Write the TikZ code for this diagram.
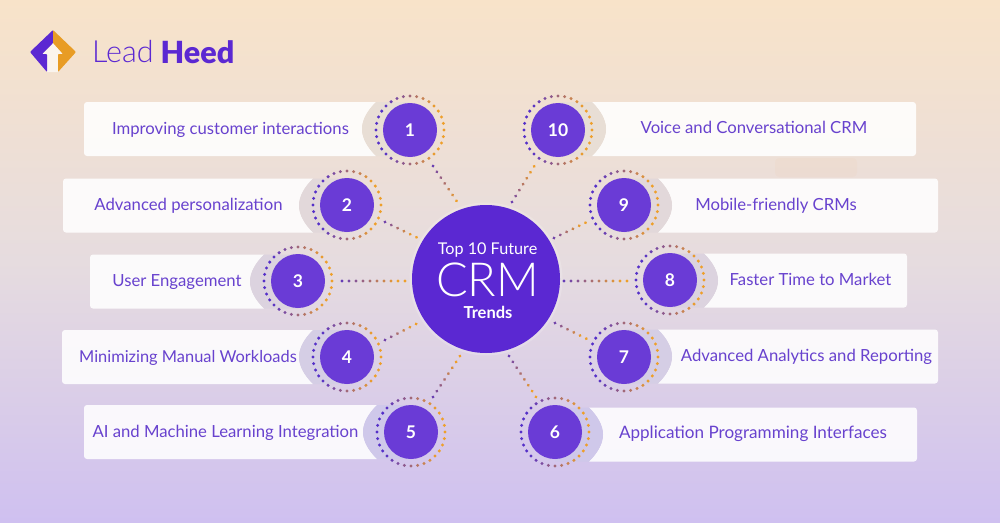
\documentclass[tikz,border=0pt]{standalone}
\usepackage{fontspec}
\setmainfont{Lato}
\newfontfamily\thinfont{Lato Light}
\newfontfamily\heavyfont{Lato Black}
\usetikzlibrary{decorations.markings,calc}
\definecolor{bgtop}{HTML}{F8E3C9}
\definecolor{bgmid}{HTML}{E6DCDF}
\definecolor{bgbot}{HTML}{CFC0F0}
\definecolor{pur}{HTML}{5B28D2}
\definecolor{purb}{HTML}{6A3BD6}
\definecolor{ringp}{HTML}{5530C8}
\definecolor{ringo}{HTML}{EE9F2A}
\definecolor{txt}{HTML}{6842CE}
\definecolor{logoo}{HTML}{E89C25}
\definecolor{blobt}{HTML}{E8DED5}
\definecolor{blobb}{HTML}{CFC8EA}
\tikzset{
 x=1pt,y=-1pt,
 card/.style={fill=white,fill opacity=.88,draw=none},
 lab/.style={text=txt,font=\fontsize{16.7}{19}\selectfont,inner sep=0pt,anchor=base},
 numnode/.style={circle,fill=purb,minimum size=54pt,inner sep=0pt,text=white,font=\fontsize{17.5}{20}\selectfont\bfseries},
 hub/.style={circle,fill=pur,minimum size=148pt,inner sep=0pt},
 hubtxt/.style={text=white,inner sep=0pt},
 dotconn/.style={decoration={markings,mark=between positions 0 and 1 step 7pt with {
   \pgfmathsetmacro{\fr}{min(100,100*\pgfkeysvalueof{/pgf/decoration/mark info/sequence number}*7/\pgfdecoratedpathlength)}
   \fill[ringo!\fr!ringp] (0,0) circle (1.6pt);}},postaction={decorate}},
}
\newcommand{\leftcard}[3]{%
 \pgfmathsetmacro{\bm}{(#3-129)/3.05}
 \fill[card] ({#1+3},{#3-27}) -- ({#2-34},{#3-27}) .. controls ({#2-43},{#3-18}) and ({#2-48},{#3-9}) .. ({#2-48},{#3}) .. controls ({#2-48},{#3+9}) and ({#2-43},{#3+18}) .. ({#2-34},{#3+27}) -- ({#1+3},{#3+27}) arc[start angle=90,end angle=180,radius=3] -- ({#1},{#3-24}) arc[start angle=180,end angle=270,radius=3] -- cycle;
 \fill[blobb!\bm!blobt] ({#2-34},{#3-27}) .. controls ({#2-43},{#3-18}) and ({#2-48},{#3-9}) .. ({#2-48},{#3}) .. controls ({#2-48},{#3+9}) and ({#2-43},{#3+18}) .. ({#2-34},{#3+27}) -- ({#2},{#3+27}) -- ({#2},{#3-27}) -- cycle;}
\newcommand{\rightcard}[3]{%
 \pgfmathsetmacro{\bm}{(#3-129)/3.05}
 \fill[card] ({#1-3},{#3-27}) -- ({#2+34},{#3-27}) .. controls ({#2+43},{#3-18}) and ({#2+48},{#3-9}) .. ({#2+48},{#3}) .. controls ({#2+48},{#3+9}) and ({#2+43},{#3+18}) .. ({#2+34},{#3+27}) -- ({#1-3},{#3+27}) arc[start angle=90,end angle=0,radius=3] -- ({#1},{#3-24}) arc[start angle=0,end angle=-90,radius=3] -- cycle;
 \fill[blobb!\bm!blobt] ({#2+34},{#3-27}) .. controls ({#2+43},{#3-18}) and ({#2+48},{#3-9}) .. ({#2+48},{#3}) .. controls ({#2+48},{#3+9}) and ({#2+43},{#3+18}) .. ({#2+34},{#3+27}) -- ({#2},{#3+27}) -- ({#2},{#3-27}) -- cycle;}
\newcommand{\ringdots}[1]{%
 \foreach \a in {0,11.25,...,349}{
  \pgfmathsetmacro{\m}{max(0,min(100,50+65*cos(\a)))}
  \fill[ringo!\m!ringp] ($(#1)+(\a:34)$) circle (1.65pt);}}
\begin{document}
\begin{tikzpicture}
\useasboundingbox (0,0) rectangle (1000,522);
\shade[top color=bgtop,bottom color=bgbot,middle color=bgmid] (0,0) rectangle (1000,522);
\fill[orange,opacity=.022,rounded corners=4pt] (775,158) rectangle (857,177);
% logo
\fill[white,opacity=.65] (53,43) -- (63,54) -- (58,54) -- (58,72) -- (47,72) -- (47,54) -- (42,54) -- cycle;
\fill[pur,rounded corners=.8pt] (53,30) -- (53,43) -- (42,54) -- (47,54) -- (47,72) -- (30,52) -- cycle;
\fill[logoo,rounded corners=.8pt] (53,30) -- (76,52) -- (58,72) -- (58,54) -- (63,54) -- (53,43) -- cycle;
\node[text=pur,inner sep=0pt,anchor=west,font=\fontsize{30.5}{34}\selectfont\thinfont] (brand) at (92,52) {Lead};
\node[text=pur,inner sep=0pt,anchor=west,font=\fontsize{30.5}{34}\selectfont\heavyfont] (brand2) at (160.5,52) {Heed};
% cards
\leftcard{84}{410}{129}
\leftcard{63}{347}{205.5}
\leftcard{90}{298}{281.5}
\leftcard{62}{347}{357}
\leftcard{84}{411}{432}
\rightcard{916}{558}{129}
\rightcard{938}{624}{205.5}
\rightcard{907}{670}{280.5}
\rightcard{938}{624}{356.5}
\rightcard{917}{555}{434.5}
% hub
\fill[white,opacity=.18] (486,279) circle (76.5);
\node[hub] (hub) at (486,279) {};
\node[hubtxt,font=\fontsize{16.2}{20}\selectfont] (t1) at (487.5,250) {Top 10 Future};
\node[hubtxt,font=\fontsize{47}{50}\selectfont\thinfont] (t2) at (487.5,280) {CRM};
\node[hubtxt,font=\fontsize{16.5}{18}\selectfont\bfseries] (t3) at (488,312) {Trends};
% numbered nodes
\foreach \n/\x/\y in {n1/410/130,n2/347/205,n3/298/281,n4/347/357,n5/411/432,n10/558/130,n9/624/205,n8/670/280,n7/624/357,n6/555/432}{
  \coordinate (\n c) at (\x,\y);
  \ringdots{\n c}
}
\node[numnode] (n1) at (n1c) {1};
\node[numnode] (n2) at (n2c) {2};
\node[numnode] (n3) at (n3c) {3};
\node[numnode] (n4) at (n4c) {4};
\node[numnode] (n5) at (n5c) {5};
\node[numnode] (n6) at (n6c) {6};
\node[numnode] (n7) at (n7c) {7};
\node[numnode] (n8) at (n8c) {8};
\node[numnode] (n9) at (n9c) {9};
\node[numnode] (n10) at (n10c) {10};
% labels
\node[lab] (l1) at (230.5,134) {Improving customer interactions};
\node[lab] (l2) at (188.5,210.7) {Advanced personalization};
\node[lab] (l3) at (177,286.7) {User Engagement};
\node[lab,font=\fontsize{16.4}{19}\selectfont] (l4) at (188,362) {Minimizing Manual Workloads};
\node[lab] (l5) at (225.5,437.3) {AI and Machine Learning Integration};
\node[lab,font=\fontsize{17.1}{19}\selectfont] (l6) at (753,438) {Application Programming Interfaces};
\node[lab] (l7) at (806.5,361.7) {Advanced Analytics and Reporting};
\node[lab] (l8) at (810.5,285) {Faster Time to Market};
\node[lab] (l9) at (776,210) {Mobile-friendly CRMs};
\node[lab] (l10) at (754,133.3) {Voice and Conversational CRM};
% connectors
\coordinate (a1) at (433,166); \coordinate (b1) at (460,206);
\coordinate (a2) at (385,222); \coordinate (b2) at (418,238);
\coordinate (a3) at (342,281); \coordinate (b3) at (405,281);
\coordinate (a4) at (385,340); \coordinate (b4) at (418,323);
\coordinate (a5) at (433,397); \coordinate (b5) at (460,356);
\coordinate (a6) at (509,356); \coordinate (b6) at (536,397);
\coordinate (a7) at (555,323); \coordinate (b7) at (588,339.5);
\coordinate (a8) at (564,281); \coordinate (b8) at (628,281);
\coordinate (a9) at (554,238); \coordinate (b9) at (587,222);
\coordinate (a10) at (512,202); \coordinate (b10) at (535,165);
\draw[dotconn,draw=none] (a1) -- (b1);
\draw[dotconn,draw=none] (a2) -- (b2);
\draw[dotconn,draw=none] (a3) -- (b3);
\draw[dotconn,draw=none] (a4) -- (b4);
\draw[dotconn,draw=none] (a5) -- (b5);
\draw[dotconn,draw=none] (a6) -- (b6);
\draw[dotconn,draw=none] (a7) -- (b7);
\draw[dotconn,draw=none] (a8) -- (b8);
\draw[dotconn,draw=none] (a9) -- (b9);
\draw[dotconn,draw=none] (a10) -- (b10);
\end{tikzpicture}
\end{document}
